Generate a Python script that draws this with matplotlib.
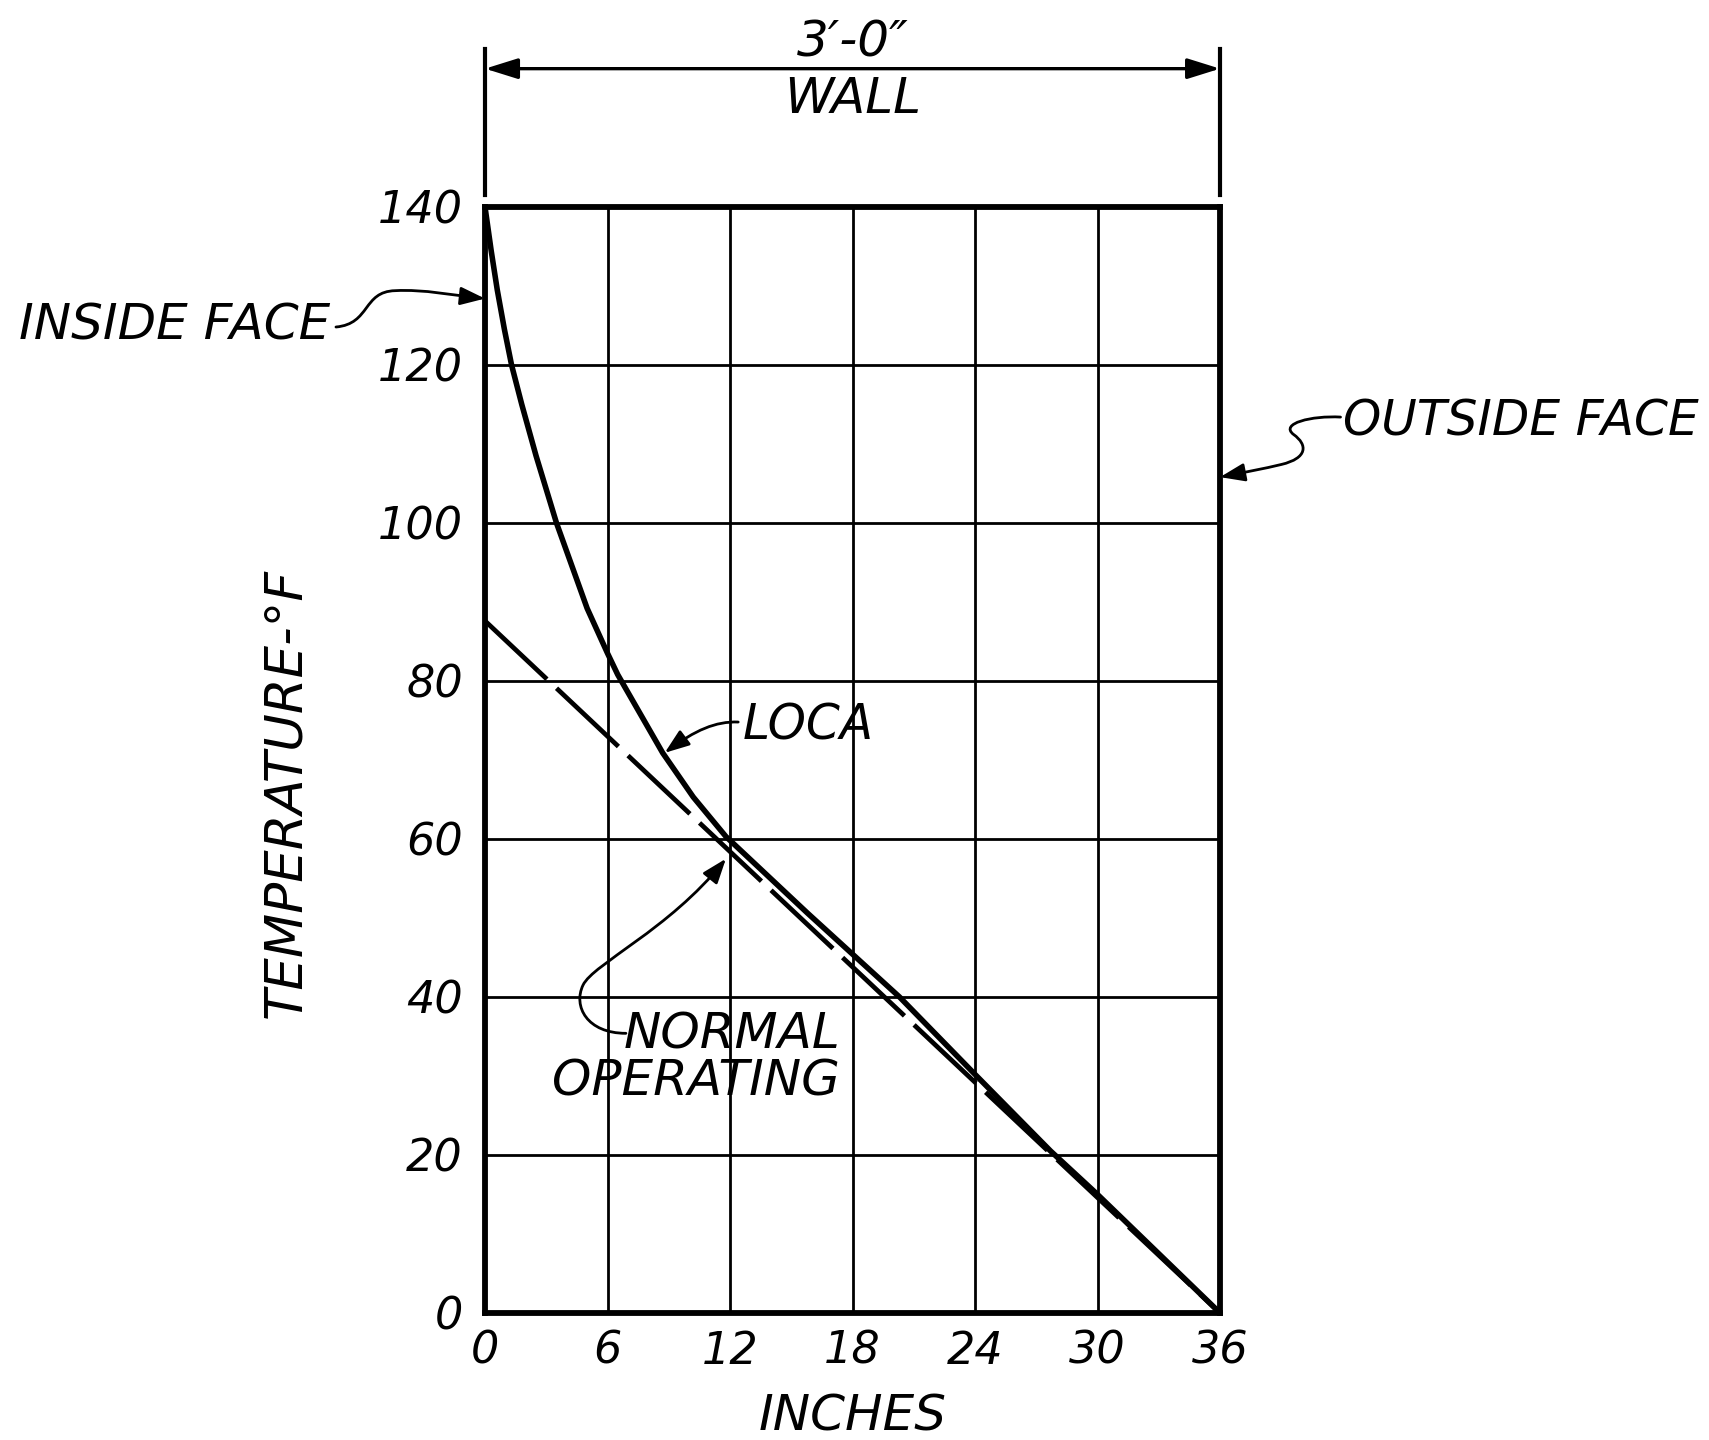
import matplotlib
matplotlib.use("Agg")
import matplotlib.pyplot as plt
from matplotlib.path import Path
from matplotlib.patches import FancyArrowPatch

plt.rcParams['font.family'] = ['DejaVu Sans']
plt.rcParams['font.style'] = 'oblique'

# data (inches into wall, deg F)
loca_x = [0, 0.3, 0.6, 0.95, 1.3, 1.8, 2.5, 3.5, 5.0, 6.0, 6.5, 8.7, 10.2, 11.8, 15.8, 20.3, 24, 27.7, 30, 36]
loca_t = [140, 134.5, 129.5, 124.5, 120, 115, 108.5, 100, 89.2, 83.5, 80.8, 70.9, 65.3, 60.3, 50.6, 40, 30.2, 20.5, 15, 0]
normal_x = [0, 36]
normal_t = [87.6, 0]

x_ticks = [0, 6, 12, 18, 24, 30, 36]
y_ticks = [0, 20, 40, 60, 80, 100, 120, 140]

fig = plt.figure(figsize=(17.09, 14.4), dpi=100)
ax = fig.add_axes([0.2838, 0.0882, 0.4301, 0.7681])

ax.set_xlim(0, 36)
ax.set_ylim(0, 140)
ax.set_xticks(x_ticks)
ax.set_yticks(y_ticks)
ax.set_xticklabels([str(v) for v in x_ticks])
ax.set_yticklabels([str(v) for v in y_ticks])
ax.tick_params(length=0, labelsize=32)
ax.tick_params(axis='y', pad=16)
ax.tick_params(axis='x', pad=12)
ax.grid(True, color='black', linewidth=2.0)
for s in ax.spines.values():
    s.set_linewidth(4.2)

ax.plot(loca_x, loca_t, color='black', linewidth=4.0, solid_capstyle='round', zorder=3)
ax.plot(normal_x, normal_t, color='black', linewidth=3.4, dashes=(18, 2.8), zorder=3)

ax.set_xlabel('INCHES', fontsize=36)
ax.set_ylabel('TEMPERATURE-°F', fontsize=37)
ax.xaxis.set_label_coords(0.5, -0.072)
ax.yaxis.set_label_coords(-0.237, 0.47)


def leader(verts, codes):
    p = FancyArrowPatch(path=Path(verts, codes), arrowstyle='-|>,head_length=0.6,head_width=0.22',
                        mutation_scale=25, color='black', linewidth=2.0, clip_on=False)
    ax.add_patch(p)


M, C = Path.MOVETO, Path.CURVE4

# inside face
ax.text(-7.6, 125.0, 'INSIDE FACE', fontsize=36, ha='right', va='center', clip_on=False)
leader([(-7.3, 124.8), (-5.6, 125.2), (-6.0, 129.3), (-4.4, 129.4),
        (-3.0, 129.6), (-1.5, 128.8), (0, 128.4)],
       [M, C, C, C, C, C, C])

# outside face
ax.text(42.0, 112.9, 'OUTSIDE FACE', fontsize=35, ha='left', va='center', clip_on=False)
leader([(41.9, 113.4), (40.5, 113.6), (38.9, 112.6), (39.6, 111.2),
        (40.3, 109.9), (40.3, 108.2), (39.0, 107.4),
        (38.2, 106.9), (37.0, 106.3), (36.0, 105.8)],
       [M, C, C, C, C, C, C, C, C, C])

# LOCA
ax.text(12.6, 74.4, 'LOCA', fontsize=35, ha='left', va='center')
leader([(12.4, 74.8), (11.3, 74.9), (10.3, 73.8), (8.8, 70.9)], [M, C, C, C])

# normal operating
ax.text(17.4, 35.3, 'NORMAL', fontsize=36, ha='right', va='center')
ax.text(17.4, 29.3, 'OPERATING', fontsize=36, ha='right', va='center')
leader([(6.9, 35.4), (5.0, 35.4), (4.3, 38.8), (4.8, 41.5),
        (5.3, 44.2), (9.0, 48.5), (11.8, 57.5)],
       [M, C, C, C, C, C, C])

# wall dimension
ax.plot([0, 0], [141.5, 160], color='black', linewidth=3.0, clip_on=False)
ax.plot([36, 36], [141.5, 160], color='black', linewidth=3.0, clip_on=False)
ax.annotate('', xy=(0, 157.5), xytext=(36, 157.5), annotation_clip=False,
            arrowprops=dict(arrowstyle='<|-|>,head_length=0.8,head_width=0.25',
                            mutation_scale=25, color='black', linewidth=2.4,
                            shrinkA=0, shrinkB=0))
ax.text(18.0, 160.8, '3′-0″', fontsize=36, ha='center', va='center', clip_on=False)
ax.text(18.0, 153.6, 'WALL', fontsize=36, ha='center', va='center', clip_on=False)

fig.savefig('out.png', dpi=100)
